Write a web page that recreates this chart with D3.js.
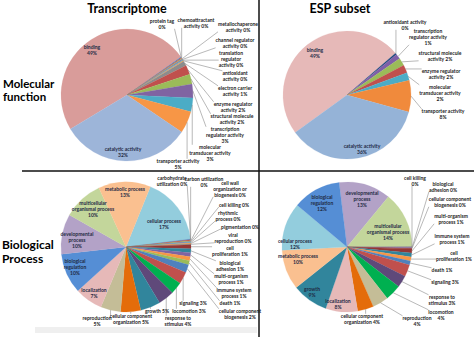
<!DOCTYPE html>
<html>
<head>
<meta charset="utf-8">
<script src="https://cdn.jsdelivr.net/npm/d3@7"></script>
<style>
  body { margin: 0; background: #fff; }
  svg { display: block; font-family: Lato, 'Liberation Sans', sans-serif; }
  .title { font-size: 12.5px; font-weight: bold; fill: #000; }
  .row { font-size: 11.5px; font-weight: bold; fill: #000; }
  .row2 { font-size: 12px; font-weight: bold; fill: #000; }
  .lab { font-size: 5px; font-weight: bold; fill: #222; }
  .inlab { font-size: 5px; font-weight: bold; fill: #1f2a44; }
</style>
</head>
<body>
<div id="chart"></div>
<script>
// ---- data: molecular function, transcriptome (clockwise from binding)
const mfTransCategories = ['binding', 'protein tag', 'chemoattractant activity', 'metallochaperone activity',
  'channel regulator activity', 'translation regulator activity', 'antioxidant activity',
  'electron carrier activity', 'enzyme regulator activity', 'structural molecule activity',
  'transcription regulator activity', 'molecular transducer activity', 'transporter activity', 'catalytic activity'];
const mfTransValues = [49, 0.2, 0.2, 0.2, 0.2, 0.2, 0.2, 1.2, 2.3, 2.4, 3.4, 3.4, 5.4, 32];

// ---- data: molecular function, ESP subset
const mfEspCategories = ['binding', 'antioxidant activity', 'transcription regulator activity',
  'structural molecule activity', 'enzyme regulator activity', 'molecular transducer activity',
  'transporter activity', 'catalytic activity'];
const mfEspValues = [49, 0.4, 1.3, 2, 2, 2, 8, 36];

// ---- data: biological process, transcriptome (clockwise from cellular process)
const bpTransCategories = ['cellular process', 'carbohydrate utilization', 'carbon utilization',
  'cell wall organization or biogenesis', 'cell killing', 'rhythmic process', 'pigmentation',
  'viral reproduction', 'cell proliferation', 'biological adhesion', 'multi-organism process',
  'immune system process', 'death', 'cellular component biogenesis', 'signaling', 'locomotion',
  'response to stimulus', 'growth', 'cellular component organization', 'reproduction',
  'localization', 'biological regulation', 'developmental process',
  'multicellular organismal process', 'metabolic process'];
const bpTransValues = [17, 0.2, 0.2, 0.2, 0.2, 0.2, 0.2, 0.2, 1, 1, 1, 1, 1, 2, 3, 3, 4, 5, 5, 5, 7, 10, 10, 10, 13];

// ---- data: biological process, ESP subset (clockwise from developmental process)
const bpEspCategories = ['developmental process', 'multicellular organismal process', 'cell killing',
  'biological adhesion', 'cellular component biogenesis', 'multi-organism process',
  'immune system process', 'cell proliferation', 'death', 'signaling', 'response to stimulus',
  'locomotion', 'reproduction', 'cellular component organization', 'localization', 'growth',
  'metabolic process', 'cellular process', 'biological regulation'];
const bpEspValues = [13, 14, 0.2, 0.2, 0.2, 1, 1, 1, 1, 3, 3, 4, 4, 4, 8, 9, 10, 12, 12];

// ---- styles
const mfTransColors = ['#D99C9A', '#4F81BD', '#C0504D', '#9BBB59', '#8064A2', '#4BACC6', '#F79646',
  '#8C8C8C', '#C0504D', '#9BBB59', '#8064A2', '#4BACC6', '#F79646', '#9DB5D9'];
const mfEspColors = ['#E6B9B8', '#1F497D', '#7F5FA8', '#9BBB59', '#C0504D', '#4BACC6', '#F08A3C', '#95B3D7'];
const bpTransColors = ['#93CDDD', '#4F81BD', '#C0504D', '#9BBB59', '#8064A2', '#4BACC6', '#F79646',
  '#7F7F7F', '#953735', '#31859C', '#8064A2', '#F79646', '#9BBB59', '#4F81BD', '#C0504D', '#00B050',
  '#5F497A', '#31859C', '#E46C0A', '#C4BD97', '#E6B9B8', '#558ED5', '#B3A2C7', '#C3D69B', '#FAC090'];
const bpEspColors = ['#B3A2C7', '#C3D69B', '#7F7F7F', '#8064A2', '#953735', '#953735', '#31859C',
  '#F79646', '#4F81BD', '#C0504D', '#5F497A', '#00B050', '#C4BD97', '#E46C0A', '#E6B9B8', '#31859C',
  '#FAC090', '#93CDDD', '#558ED5'];

// ---- label layout (text centre, first line centre); %p = rounded share
const mfTransLabels = [
  {cat: 'binding', x: 92, y: 47, lines: ['binding', '%p'], inside: true},
  {cat: 'catalytic activity', x: 123, y: 149, lines: ['catalytic activity', '%p'], inside: true},
  {cat: 'protein tag', x: 162, y: 21, lines: ['protein tag', '%p']},
  {cat: 'chemoattractant activity', x: 196, y: 20, lines: ['chemoattractant', 'activity %p']},
  {cat: 'metallochaperone activity', x: 238, y: 24, lines: ['metallochaperone', 'activity  %p']},
  {cat: 'channel regulator activity', x: 235, y: 40, lines: ['channel regulator', 'activity  %p']},
  {cat: 'translation regulator activity', x: 231, y: 53, lines: ['translation', 'regulator', 'activity  %p']},
  {cat: 'antioxidant activity', x: 235, y: 73, lines: ['antioxidant', 'activity %p']},
  {cat: 'electron carrier activity', x: 235, y: 88, lines: ['electron carrier', 'activity  %p']},
  {cat: 'enzyme regulator activity', x: 233, y: 104, lines: ['enzyme regulator', 'activity  %p']},
  {cat: 'structural molecule activity', x: 232, y: 116, lines: ['structural molecule', 'activity  %p']},
  {cat: 'transcription regulator activity', x: 225, y: 129, lines: ['transcription', 'regulator activity', '%p']},
  {cat: 'molecular transducer activity', x: 210, y: 147, lines: ['molecular', 'transducer activity', '%p']},
  {cat: 'transporter activity', x: 178, y: 161, lines: ['transporter activity', '%p']}
];
const mfEspLabels = [
  {cat: 'binding', x: 315, y: 50, lines: ['binding', '%p'], inside: true},
  {cat: 'catalytic activity', x: 362, y: 146, lines: ['catalytic activity', '%p'], inside: true},
  {cat: 'antioxidant activity', x: 405, y: 22, lines: ['antioxidant activity', '%p']},
  {cat: 'transcription regulator activity', x: 428, y: 31, lines: ['transcription', 'regulator activity', '%p']},
  {cat: 'structural molecule activity', x: 440, y: 53, lines: ['structural molecule', 'activity  %p']},
  {cat: 'enzyme regulator activity', x: 441, y: 71, lines: ['enzyme regulator', 'activity  %p']},
  {cat: 'molecular transducer activity', x: 440, y: 87, lines: ['molecular', 'transducer activity', '%p']},
  {cat: 'transporter activity', x: 443, y: 111, lines: ['transporter activity', '%p']}
];
const bpTransLabels = [
  {cat: 'metabolic process', x: 125, y: 189, lines: ['metabolic process', '%p'], inside: true},
  {cat: 'cellular process', x: 164, y: 221, lines: ['cellular process', '%p'], inside: true},
  {cat: 'multicellular organismal process', x: 93, y: 203, lines: ['multicellular', 'organismal process', '%p'], inside: true},
  {cat: 'developmental process', x: 77, y: 234, lines: ['developmental', 'process', '%p'], inside: true},
  {cat: 'biological regulation', x: 75, y: 261, lines: ['biological', 'regulation', '%p'], inside: true},
  {cat: 'localization', x: 94, y: 290, lines: ['localization', '%p'], inside: true},
  {cat: 'carbohydrate utilization', x: 172, y: 178, lines: ['carbohydrate', 'utilization  %p']},
  {cat: 'carbon utilization', x: 204, y: 179, lines: ['carbon utilization', '%p']},
  {cat: 'cell wall organization or biogenesis', x: 230, y: 183, lines: ['cell wall', 'organization or', 'biogenesis  %p']},
  {cat: 'cell killing', x: 234, y: 205, lines: ['cell killing  %p']},
  {cat: 'rhythmic process', x: 228, y: 213, lines: ['rhythmic', 'process %p']},
  {cat: 'pigmentation', x: 240, y: 227, lines: ['pigmentation  %p']},
  {cat: 'viral reproduction', x: 233, y: 235, lines: ['viral', 'reproduction  %p']},
  {cat: 'cell proliferation', x: 230, y: 248, lines: ['cell', 'proliferation  %p']},
  {cat: 'biological adhesion', x: 230, y: 263, lines: ['biological', 'adhesion  %p']},
  {cat: 'multi-organism process', x: 231, y: 276, lines: ['multi-organism', 'process  %p']},
  {cat: 'immune system process', x: 234, y: 290, lines: ['immune system', 'process  %p']},
  {cat: 'death', x: 230, y: 303, lines: ['death  %p']},
  {cat: 'cellular component biogenesis', x: 240, y: 311, lines: ['cellular component', 'biogenesis  %p']},
  {cat: 'signaling', x: 193, y: 303, lines: ['signaling  %p']},
  {cat: 'locomotion', x: 189, y: 311, lines: ['locomotion  %p']},
  {cat: 'response to stimulus', x: 178, y: 318, lines: ['response to', 'stimulus %p']},
  {cat: 'growth', x: 157, y: 311, lines: ['growth  %p']},
  {cat: 'cellular component organization', x: 131, y: 316, lines: ['cellular component', 'organization  %p']},
  {cat: 'reproduction', x: 97, y: 318, lines: ['reproduction', '%p']}
];
const bpEspLabels = [
  {cat: 'biological regulation', x: 322, y: 197, lines: ['biological', 'regulation', '%p'], inside: true},
  {cat: 'developmental process', x: 362, y: 193, lines: ['developmental', 'process', '%p'], inside: true},
  {cat: 'multicellular organismal process', x: 388, y: 226, lines: ['multicellular', 'organismal process', '%p'], inside: true},
  {cat: 'cellular process', x: 295, y: 241, lines: ['cellular process', '%p'], inside: true},
  {cat: 'metabolic process', x: 298, y: 256, lines: ['metabolic process', '%p'], inside: true},
  {cat: 'growth', x: 312, y: 289, lines: ['growth', '%p'], inside: true},
  {cat: 'localization', x: 338, y: 301, lines: ['localization', '%p'], inside: true},
  {cat: 'cell killing', x: 415, y: 178, lines: ['cell killing', '%p']},
  {cat: 'biological adhesion', x: 443, y: 184, lines: ['biological', 'adhesion  %p']},
  {cat: 'cellular component biogenesis', x: 450, y: 199, lines: ['cellular component', 'biogenesis  %p']},
  {cat: 'multi-organism process', x: 451, y: 216, lines: ['multi-organism', 'process  %p']},
  {cat: 'immune system process', x: 452, y: 236, lines: ['immune system', 'process  %p']},
  {cat: 'cell proliferation', x: 454, y: 253, lines: ['cell', 'proliferation  %p']},
  {cat: 'death', x: 442, y: 270, lines: ['death  %p']},
  {cat: 'signaling', x: 445, y: 282, lines: ['signaling  %p']},
  {cat: 'response to stimulus', x: 442, y: 297, lines: ['response to', 'stimulus  %p']},
  {cat: 'locomotion', x: 441, y: 312, lines: ['locomotion', '%p']},
  {cat: 'reproduction', x: 417, y: 318, lines: ['reproduction', '%p']},
  {cat: 'cellular component organization', x: 362, y: 316, lines: ['cellular component', 'organization  %p']}
];

const W = 474, H = 337;
const lineH = 6;

const svg = d3.select('#chart').append('svg')
    .attr('width', W)
    .attr('height', H);

// faint strip under the lower-left panel
svg.append('rect')
    .attr('x', 35).attr('y', 327).attr('width', 222).attr('height', 6)
    .attr('fill', '#efefef');

function drawPie(cx, cy, r, startDeg, categories, values, colors, labels) {
  const a0 = startDeg * Math.PI / 180;
  const data = categories.map((c, i) => ({cat: c, value: values[i], color: colors[i]}));
  const arcs = d3.pie().sort(null).value(d => d.value)
      .startAngle(a0).endAngle(a0 + 2 * Math.PI)(data);
  const arc = d3.arc().innerRadius(0).outerRadius(r);
  const edge = d3.arc().innerRadius(r).outerRadius(r);

  const g = svg.append('g').attr('transform', 'translate(' + cx + ',' + cy + ')');
  g.selectAll('path')
    .data(arcs)
    .join('path')
      .attr('d', arc)
      .attr('fill', d => d.data.color)
      .attr('stroke', d => d.data.color)
      .attr('stroke-width', 0.2);

  const lines = svg.append('g');
  labels.forEach(function(l) {
    const d = arcs.find(a => a.data.cat === l.cat);
    const pct = Math.round(d.data.value) + '%';
    const t = svg.append('text')
        .attr('class', l.inside ? 'inlab' : 'lab')
        .attr('text-anchor', 'middle');
    l.lines.forEach(function(s, i) {
      t.append('tspan')
        .attr('x', l.x)
        .attr('y', l.y + i * lineH + 1.8)
        .text(s.replace('%p', pct));
    });
    if (l.inside) return;
    // leader line from nearest point of the label box to the slice edge
    const c = edge.centroid(d);
    const px = cx + c[0], py = cy + c[1];
    const b = t.node().getBBox();
    const qx = Math.max(b.x, Math.min(px, b.x + b.width));
    const qy = Math.max(b.y + 1, Math.min(py, b.y + b.height - 1));
    lines.append('line')
      .attr('x1', qx).attr('y1', qy)
      .attr('x2', px).attr('y2', py)
      .attr('stroke', '#8a8a8a')
      .attr('stroke-width', 0.6);
  });
}

drawPie(127, 95, 66, 239, mfTransCategories, mfTransValues, mfTransColors, mfTransLabels);
drawPie(347, 95, 64, 234, mfEspCategories, mfEspValues, mfEspColors, mfEspLabels);
drawPie(126, 247, 65, 22, bpTransCategories, bpTransValues, bpTransColors, bpTransLabels);
drawPie(347, 247, 65, 353, bpEspCategories, bpEspValues, bpEspColors, bpEspLabels);

// titles and row headings
svg.append('text').attr('class', 'title').attr('x', 127).attr('y', 13)
    .attr('text-anchor', 'middle').text('Transcriptome');
svg.append('text').attr('class', 'title').attr('x', 340).attr('y', 13)
    .attr('text-anchor', 'middle').text('ESP subset');
svg.append('text').attr('class', 'row').attr('x', 3).attr('y', 88).text('Molecular');
svg.append('text').attr('class', 'row').attr('x', 3).attr('y', 101).text('function');
svg.append('text').attr('class', 'row2').attr('x', 2).attr('y', 249).text('Biological');
svg.append('text').attr('class', 'row2').attr('x', 2).attr('y', 263).text('Process');

// grid lines
svg.append('line').attr('x1', 259).attr('x2', 259).attr('y1', 0).attr('y2', H)
    .attr('stroke', '#111').attr('stroke-width', 1.5);
svg.append('line').attr('x1', 22).attr('x2', W).attr('y1', 171).attr('y2', 171)
    .attr('stroke', '#111').attr('stroke-width', 1.5);
</script>
</body>
</html>
